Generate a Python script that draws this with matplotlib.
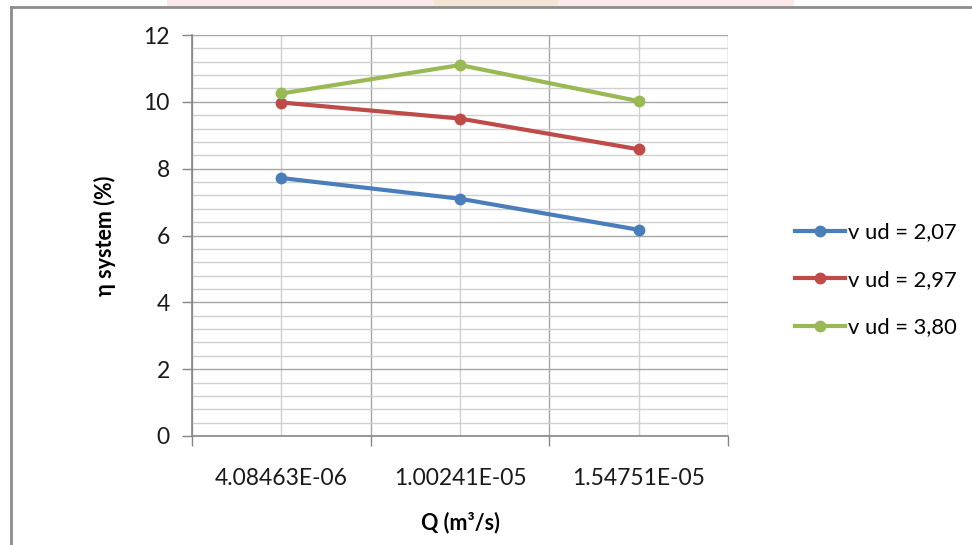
import numpy as np
import matplotlib
matplotlib.use("Agg")
import matplotlib.pyplot as plt
from matplotlib.lines import Line2D
from matplotlib.patches import Rectangle

plt.rcParams['font.family'] = ['Lato', 'DejaVu Sans']

# flow rate categories and system efficiency per flow speed
q_labels = ["4.08463E-06", "1.00241E-05", "1.54751E-05"]
eta_207 = [7.72, 7.10, 6.17]
eta_297 = [9.98, 9.50, 8.58]
eta_380 = [10.25, 11.10, 10.02]
series_names = ["v ud = 2,07", "v ud = 2,97", "v ud = 3,80"]
colors = ["#4a7ebb", "#be4b48", "#98b954"]

fig = plt.figure(figsize=(9.72, 5.45), dpi=100)
ax = fig.add_axes([192/972, 1-436/545, (728-192)/972, (436-35)/545])

x = np.arange(len(q_labels))
for vals, name, c in zip([eta_207, eta_297, eta_380], series_names, colors):
    ax.plot(x, vals, color=c, lw=3, marker='o', ms=7.5, label=name, zorder=3)

ax.set_xlim(-0.5, len(q_labels) - 0.5)
ax.set_ylim(0, 12)

# y axis: major every 2, minor every 0.4
ax.set_yticks(np.arange(0, 12.1, 2))
ax.set_yticks(np.arange(0, 12.01, 0.4), minor=True)
# x axis: major ticks on category borders, labels in category centres
ax.set_xticks(np.arange(-0.5, len(q_labels), 1))
ax.set_xticks(x, minor=True)
ax.set_xticklabels([])
ax.set_xticklabels(q_labels, minor=True)

ax.grid(which='major', color='#a6a6a6', lw=1.0, zorder=0)
ax.grid(which='minor', color='#d0d0d0', lw=1.0, zorder=0)
ax.set_axisbelow(True)

ax.tick_params(axis='y', which='major', length=7, width=1, color='#868686',
               labelsize=16.5, pad=9, labelcolor='#1a1a1a')
ax.tick_params(axis='y', which='minor', length=0)
ax.tick_params(axis='x', which='major', length=7, width=1, color='#868686')
ax.tick_params(axis='x', which='minor', length=0, labelsize=16.5, pad=23,
               labelcolor='#1a1a1a')

for s in ['top', 'right']:
    ax.spines[s].set_visible(False)
for s in ['left', 'bottom']:
    ax.spines[s].set_color('#868686')
    ax.spines[s].set_linewidth(1.2)

ax.set_xlabel("Q (m³/s)", fontsize=15.5, fontweight='bold', labelpad=16)
ax.set_ylabel("η system (%)", fontsize=15.5, fontweight='bold', labelpad=20)

fig.legend(loc='center left', bbox_to_anchor=(795/972, 1-280/545), frameon=False,
           fontsize=15.8, handlelength=2.3, handletextpad=0.1, labelspacing=1.25,
           borderaxespad=0, borderpad=0)

# chart frame, runs off the right and bottom edges
fig.add_artist(Line2D([11/972, 1], [1-7/545, 1-7/545], color='#8c8c8c', lw=2,
                      transform=fig.transFigure))
fig.add_artist(Line2D([11/972, 11/972], [0, 1-7/545], color='#8c8c8c', lw=2,
                      transform=fig.transFigure))
# faint watermark strip above the frame
fig.add_artist(Rectangle((167/972, 1-6/545), (794-167)/972, 6/545,
                         transform=fig.transFigure, color='#f2b8bd', alpha=0.3, lw=0))
fig.add_artist(Rectangle((434/972, 1-6/545), (558-434)/972, 6/545,
                         transform=fig.transFigure, color='#e6dca0', alpha=0.3, lw=0))

fig.savefig("out.png", dpi=100)
